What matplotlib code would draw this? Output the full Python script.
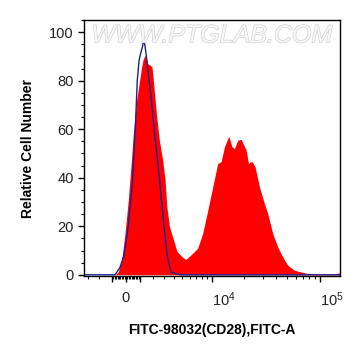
import matplotlib
matplotlib.use("Agg")
import matplotlib.pyplot as plt
import matplotlib.ticker as mticker
import matplotlib.patheffects as pe

plt.rcParams["font.family"] = ["Liberation Sans", "DejaVu Sans"]
plt.rcParams["mathtext.default"] = "regular"

# FITC-A intensity (linear units) and relative cell number
red_x = [-3370, -784, -545, -305, -70, 164, 352, 518, 763, 1129, 1250, 1401,
         1589, 1768, 1933, 2038, 2327, 2557, 2866, 3089, 3258, 3527, 3960,
         4354, 4973, 5418, 6133, 7219, 8112, 9122, 10192, 11366, 12230,
         13152, 14463, 15528, 16338, 17565, 18881, 21018, 22061, 23723,
         25427, 27846, 30949, 33208, 36962, 41043, 45610, 50643, 58170,
         75700, 100400, 132000, 153000]
red_y = [0, 0, 1.2, 6, 17, 30.8, 44.5, 58, 72, 85.7, 89, 90.5,
         87, 86.4, 85.7, 80.2, 65, 55.5, 47, 39, 28, 19.8, 14.3,
         9.5, 7.4, 6.3, 8.1, 10.9, 17, 26.7, 36.3, 45.9, 46.6,
         52.7, 57.1, 52.7, 52, 55.5, 55.8, 51.4, 45.9, 46.8,
         44.5, 36.3, 29.4, 25.3, 17, 11.5, 7.4, 4, 1.9,
         0.6, 0.3, 0.2, 0.8]

# isotype control
blue_x = [-3370, -784, -426, -141, 163, 475, 661, 804, 930, 1041, 1190, 1303,
          1417, 1533, 1714, 2121, 2554, 2985, 3287, 3689, 4753, 153000]
blue_y = [0, 0, 3, 8, 20, 40, 60, 80, 88, 91, 94, 97,
          93, 88, 80, 60, 40, 20, 8, 1, 0, 0]

x_major = [-1000, 0, 1000, 10000, 100000]
x_major_labels = ["", "0", "", "$10^4$", "$10^5$"]
x_minor = ([-3000, -2000] + [k * 100 for k in range(-9, 10) if k != 0]
           + [k * 1000 for k in range(2, 10)] + [k * 10000 for k in range(2, 10)])

fig = plt.figure(figsize=(3.61, 3.56), dpi=100)
ax = fig.add_axes([0.2327, 0.2247, 0.709, 0.719])

ax.set_xscale("asinh", linear_width=3350)
ax.fill_between(red_x, red_y, 0, color="#ff0000", lw=0)
ax.plot(blue_x, blue_y, color="#1f1f8f", lw=1)

ax.set_xlim(-3370, 153000)
ax.set_ylim(-0.5, 105)

ax.xaxis.set_major_locator(mticker.FixedLocator(x_major))
ax.xaxis.set_minor_locator(mticker.FixedLocator(x_minor))
ax.set_xticklabels(x_major_labels)
for lab in ax.get_xticklabels()[3:]:
    lab.set_horizontalalignment("left")

ax.yaxis.set_major_locator(mticker.MultipleLocator(20))
ax.yaxis.set_minor_locator(mticker.MultipleLocator(5))

ax.tick_params(which="major", direction="out", length=4.5, width=1,
               labelsize=10.5, pad=3, top=False, right=False,
               labelcolor="#222222")
ax.tick_params(which="minor", direction="out", length=2.5, width=0.8,
               top=False, right=False)
ax.tick_params(axis="x", which="major", pad=6)
for s in ax.spines.values():
    s.set_linewidth(1)

ax.set_xlabel("FITC-98032(CD28),FITC-A", fontsize=10, fontweight="bold", labelpad=10)
ax.set_ylabel("Relative Cell Number", fontsize=10, fontweight="bold", labelpad=10)

ax.text(0.5, 0.94, "WWW.PTGLAB.COM", transform=ax.transAxes, ha="center",
        va="center", fontsize=18, style="italic", color="#f7f7f7",
        path_effects=[pe.withStroke(linewidth=0.9, foreground="#d0d0d0")])

fig.savefig("out.png", dpi=100)
